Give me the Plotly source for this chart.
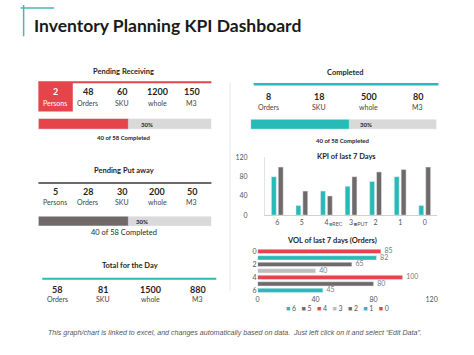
import plotly.graph_objects as go

W, H = 474, 355

# ---------------- data ----------------
kpi_days = ["6", "5", "4", "3", "2", "1", "0"]
kpi_rec = [80, 20, 50, 60, 70, 80, 20]
kpi_put = [100, 50, 40, 80, 90, 95, 100]

vol_days = [0, 1, 2, 3, 4, 5, 6]
vol_orders = [85, 82, 65, 40, 100, 80, 45]

recv_values = ["2", "48", "60", "1200", "150"]
recv_labels = ["Persons", "Orders", "SKU", "whole", "M3"]
put_values = ["5", "28", "30", "200", "50"]
put_labels = ["Persons", "Orders", "SKU", "whole", "M3"]
total_values = ["58", "81", "1500", "880"]
total_labels = ["Orders", "SKU", "whole", "M3"]
comp_values = ["8", "18", "500", "80"]
comp_labels = ["Orders", "SKU", "whole", "M3"]

progress_fill = [52, 52, 53]          # receiving, put away, completed (bar fill, %)
progress_text = ["30%", "30%", "30%"]
progress_caption = "40 of 58 Completed"

# ---------------- styles ----------------
TEAL = "#27BAB6"
RED = "#E5444B"
DGREY = "#6F6969"
LGREY = "#BDBDBD"
BG = "#D9D9D9"
TXT = "#1F1F1F"
FONT = "Lato"

vol_color_map = {0: RED, 1: TEAL, 2: DGREY, 3: LGREY, 4: RED, 5: DGREY, 6: TEAL}


def px(x):
    return x / W


def py(y):
    return 1 - y / H


fig = go.Figure()

# KPI of last 7 days
fig.add_trace(go.Bar(x=kpi_days, y=kpi_rec, name="REC", marker_color=TEAL,
                     offset=-0.24, width=0.2, xaxis="x", yaxis="y", showlegend=False))
fig.add_trace(go.Bar(x=kpi_days, y=kpi_put, name="PUT", marker_color=DGREY,
                     offset=0.04, width=0.2, xaxis="x", yaxis="y", showlegend=False))

# VOL of last 7 days
for d, v in zip(vol_days, vol_orders):
    fig.add_trace(go.Bar(y=[d], x=[v], orientation="h", name=str(d),
                         marker_color=vol_color_map[d], width=0.66,
                         xaxis="x2", yaxis="y2", showlegend=False))
# value labels
fig.add_trace(go.Scatter(x=vol_orders, y=vol_days, mode="text",
                         text=[f"  {v}" for v in vol_orders], textposition="middle right",
                         textfont=dict(size=7, color="#7a7a7a", family=FONT),
                         cliponaxis=False, xaxis="x2", yaxis="y2", showlegend=False,
                         hoverinfo="skip"))

# progress bars
prog_colors = [RED, DGREY, TEAL]
for i, (val, col) in enumerate(zip(progress_fill, prog_colors)):
    ax = str(i + 3)
    fig.add_trace(go.Bar(y=[0], x=[100], orientation="h", marker_color=BG, width=1,
                         xaxis="x" + ax, yaxis="y" + ax, showlegend=False))
    fig.add_trace(go.Bar(y=[0], x=[val], orientation="h", marker_color=col, width=1,
                         xaxis="x" + ax, yaxis="y" + ax, showlegend=False))

hidden = dict(visible=False, fixedrange=True)

fig.update_layout(
    width=W, height=H,
    margin=dict(l=0, r=0, t=0, b=0),
    paper_bgcolor="white", plot_bgcolor="rgba(0,0,0,0)",
    barmode="overlay",
    font=dict(family=FONT, color=TXT),
    xaxis=dict(domain=[px(267.5), px(442.5)], type="category", showline=True,
               linecolor="#D0D0D0", linewidth=1, ticks="", showgrid=False,
               tickfont=dict(size=7, color="#555555"), anchor="y"),
    yaxis=dict(domain=[py(215), py(156)], range=[0, 120], tickvals=[0, 40, 80, 120],
               showgrid=False, showline=True, linecolor="#E3E3E3", zeroline=False,
               ticks="outside", ticklen=15, tickcolor="rgba(0,0,0,0)",
               tickfont=dict(size=7, color="#555555"), anchor="x"),
    xaxis2=dict(domain=[px(260), px(437)], range=[0, 120], tickvals=[0, 40, 80, 120],
                showgrid=False, showline=False, zeroline=False,
                tickfont=dict(size=7, color="#555555"), anchor="y2"),
    yaxis2=dict(domain=[py(295.3), py(248.7)], range=[6.5, -0.5], tickvals=[0, 2, 4, 6],
                showgrid=False, showline=False, zeroline=False,
                tickfont=dict(size=7, color="#555555"), anchor="x2"),
    xaxis3=dict(domain=[px(37), px(213)], range=[0, 100], anchor="y3", **hidden),
    yaxis3=dict(domain=[py(127), py(116)], range=[-0.5, 0.5], anchor="x3", **hidden),
    xaxis4=dict(domain=[px(37), px(213)], range=[0, 100], anchor="y4", **hidden),
    yaxis4=dict(domain=[py(226), py(216)], range=[-0.5, 0.5], anchor="x4", **hidden),
    xaxis5=dict(domain=[px(253), px(442)], range=[0, 100], anchor="y5", **hidden),
    yaxis5=dict(domain=[py(127), py(117)], range=[-0.5, 0.5], anchor="x5", **hidden),
)

shapes = []


def hline(x0, x1, y, color, w=2):
    shapes.append(dict(type="line", xref="paper", yref="paper", x0=px(x0), x1=px(x1),
                       y0=py(y), y1=py(y), line=dict(color=color, width=w)))


# decoration
hline(19, 53, 3, "#4DB6AC", 1.5)
shapes.append(dict(type="line", xref="paper", yref="paper", x0=px(22), x1=px(22),
                   y0=py(0), y1=py(32), line=dict(color="#4DB6AC", width=1.5)))
# separator
shapes.append(dict(type="line", xref="paper", yref="paper", x0=px(232), x1=px(232),
                   y0=py(80), y1=py(293), line=dict(color="#E6E6E6", width=1)))
# section lines
hline(37, 213, 79, RED, 2)
shapes.append(dict(type="rect", xref="paper", yref="paper", x0=px(37), x1=px(72),
                   y0=py(109), y1=py(79), fillcolor=RED, line=dict(width=0)))
hline(37, 213, 182, DGREY, 2)
hline(41, 218, 280, TEAL, 2)
hline(256, 444, 81, TEAL, 2.5)
fig.update_layout(shapes=shapes)

ann = []


def text(x, y, s, size=7, bold=False, color=TXT, family=FONT, xanchor="center", italic=False):
    if bold:
        s = "<b>" + s + "</b>"
    if italic:
        s = "<i>" + s + "</i>"
    ann.append(dict(x=px(x), y=py(y), xref="paper", yref="paper", text=s, showarrow=False,
                    xanchor=xanchor, yanchor="middle",
                    font=dict(size=size, color=color, family=family)))


# title
text(31, 21, "Inventory Planning KPI Dashboard", size=17.5, bold=True, color="#1A1A1A", xanchor="left")

# Pending receiving
text(124, 68, "Pending Receiving", size=7.5, bold=True)
for i, (x, v, l) in enumerate(zip([54, 87, 122, 158, 193], recv_values, recv_labels)):
    c = "white" if i == 0 else TXT
    c2 = "white" if i == 0 else "#444444"
    text(x, 89, v, size=9, bold=True, color=c)
    text(x, 100, l, size=7, color=c2)
text(147, 122, progress_text[0], size=6, bold=True)
text(124, 136, progress_caption, size=6, bold=True)

# Pending put away
text(124, 169, "Pending Put away", size=7.5, bold=True)
for x, v, l in zip([54, 87, 122, 158, 193], put_values, put_labels):
    text(x, 191, v, size=9, bold=True)
    text(x, 202, l, size=7, color="#444444")
text(142, 221, progress_text[1], size=6, bold=True)
text(124, 233, progress_caption, size=7.5)

# Total for the day
text(130, 267, "Total for the Day", size=7.5, bold=True)
for x, v, l in zip([56, 103, 151, 199], total_values, total_labels):
    text(x, 291, v, size=9, bold=True)
    text(x, 301, l, size=7, color="#444444")

# Completed
text(349, 69, "Completed", size=7.5, bold=True)
for x, v, l in zip([271, 322, 373, 423], comp_values, comp_labels):
    text(x, 94, v, size=9, bold=True)
    text(x, 104, l, size=7, color="#444444")
text(370, 122, progress_text[2], size=6, bold=True)
text(347, 139, progress_caption, size=6, bold=True)

# chart titles
text(350, 155, "KPI of last 7 Days", size=7.5, bold=True)
text(336, 241, "VOL of last 7 days (Orders)", size=7.5, bold=True)

# KPI legend
kpi_leg = (f"<span style='color:{TEAL}'>■</span>REC"
           f"        <span style='color:{DGREY}'>■</span>PUT")
text(331, 224, kpi_leg, size=5.5, color="#555555", xanchor="left")

# VOL legend
parts = []
for d in reversed(vol_days):
    parts.append(f"<span style='color:{vol_color_map[d]}'>■</span> {d}")
text(341, 310, "   ".join(parts), size=7, color="#555555")

# footer
text(237, 336, "This graph/chart is linked to excel, and changes automatically based on data.  "
     "Just left click on it and select \u201cEdit Data\u201d.", size=7.1, color="#555555",
     family="Liberation Sans", italic=True)

fig.update_layout(annotations=ann)

fig.write_html("out.html", config={"displayModeBar": False},
               post_script="document.body.style.margin='0';")
